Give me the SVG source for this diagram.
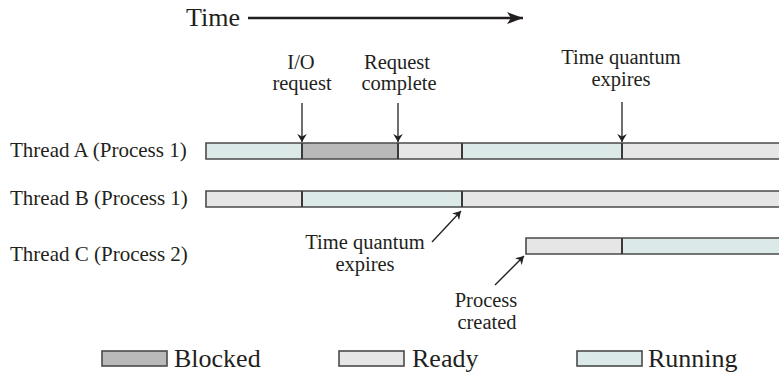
<svg xmlns="http://www.w3.org/2000/svg" width="779" height="379" viewBox="0 0 779 379">
<style>
text{font-family:"Liberation Serif","Times New Roman",serif;fill:#231f20}
.lbl{font-size:21px}
.ann{font-size:20.5px;text-anchor:middle}
.big{font-size:26px}
.run{fill:#dbe9e9}
.rdy{fill:#e6e6e7}
.blk{fill:#b9b9ba}
.bar{stroke:#4a4a4a;stroke-width:1.6}
.div{stroke:#3a3a3a;stroke-width:2}
.conn{stroke:#231f20;stroke-width:1.3;fill:none}
</style>
<defs>
<marker id="ah" viewBox="0 0 10 12" refX="10" refY="6" markerWidth="8" markerHeight="10" markerUnits="userSpaceOnUse" orient="auto">
<path d="M0,0 L10,6 L0,12 L3,6 Z" fill="#231f20"/>
</marker>
<marker id="ahBig" viewBox="0 0 16 12" refX="16" refY="6" markerWidth="16" markerHeight="12" markerUnits="userSpaceOnUse" orient="auto">
<path d="M0,0 L16,6 L0,12 L4,6 Z" fill="#231f20"/>
</marker>
</defs>

<g id="time-axis">
<text class="big" x="186" y="26">Time</text>
<line x1="248" y1="18" x2="523" y2="18" stroke="#231f20" stroke-width="2.6" marker-end="url(#ahBig)"/>
</g>

<g id="threadA">
<text class="lbl" x="10" y="157">Thread A (Process 1)</text>
<rect class="run" x="206" y="143" width="96" height="16"/>
<rect class="blk" x="302" y="143" width="96" height="16"/>
<rect class="rdy" x="398" y="143" width="64" height="16"/>
<rect class="run" x="462" y="143" width="160" height="16"/>
<rect class="rdy" x="622" y="143" width="158" height="16"/>
<path class="bar" d="M780,143 H206 V159 H780" fill="none"/>
<path class="div" d="M302,143 V159 M398,143 V159 M462,143 V159 M622,143 V159"/>
</g>

<g id="threadB">
<text class="lbl" x="10" y="205">Thread B (Process 1)</text>
<rect class="rdy" x="206" y="191" width="96" height="16"/>
<rect class="run" x="302" y="191" width="160" height="16"/>
<rect class="rdy" x="462" y="191" width="318" height="16"/>
<path class="bar" d="M780,191 H206 V207 H780" fill="none"/>
<path class="div" d="M302,191 V207 M462,191 V207"/>
</g>

<g id="threadC">
<text class="lbl" x="10" y="261">Thread C (Process 2)</text>
<rect class="rdy" x="526" y="238" width="96" height="16"/>
<rect class="run" x="622" y="238" width="158" height="16"/>
<path class="bar" d="M780,238 H526 V254 H780" fill="none"/>
<path class="div" d="M622,238 V254"/>
</g>

<g id="ann-io">
<text class="ann" x="301" y="69">I/O</text>
<text class="ann" x="302" y="90">request</text>
</g>
<g id="ann-complete">
<text class="ann" x="397" y="69">Request</text>
<text class="ann" x="399" y="90">complete</text>
</g>
<g id="ann-quantum-a">
<text class="ann" x="621" y="64">Time quantum</text>
<text class="ann" x="621" y="86">expires</text>
</g>
<g id="ann-quantum-b">
<text class="ann" x="365" y="249">Time quantum</text>
<text class="ann" x="365" y="271">expires</text>
</g>
<g id="ann-created">
<text class="ann" x="486" y="307">Process</text>
<text class="ann" x="487" y="329">created</text>
</g>

<g id="connectors">
<line class="conn" x1="302" y1="103" x2="302" y2="142" marker-end="url(#ah)"/>
<line class="conn" x1="398" y1="103" x2="398" y2="142" marker-end="url(#ah)"/>
<line class="conn" x1="622" y1="102" x2="622" y2="142" marker-end="url(#ah)"/>
<line class="conn" x1="432" y1="242" x2="461" y2="211" marker-end="url(#ah)"/>
<line class="conn" x1="495" y1="285" x2="524" y2="256" marker-end="url(#ah)"/>
</g>

<g id="legend">
<rect class="blk bar" x="102" y="351" width="65" height="15"/>
<text class="big" x="174" y="367">Blocked</text>
<rect class="rdy bar" x="339" y="351" width="65" height="15"/>
<text class="big" x="412" y="367">Ready</text>
<rect class="run bar" x="577" y="351" width="65" height="15"/>
<text class="big" x="648" y="367">Running</text>
</g>
</svg>
